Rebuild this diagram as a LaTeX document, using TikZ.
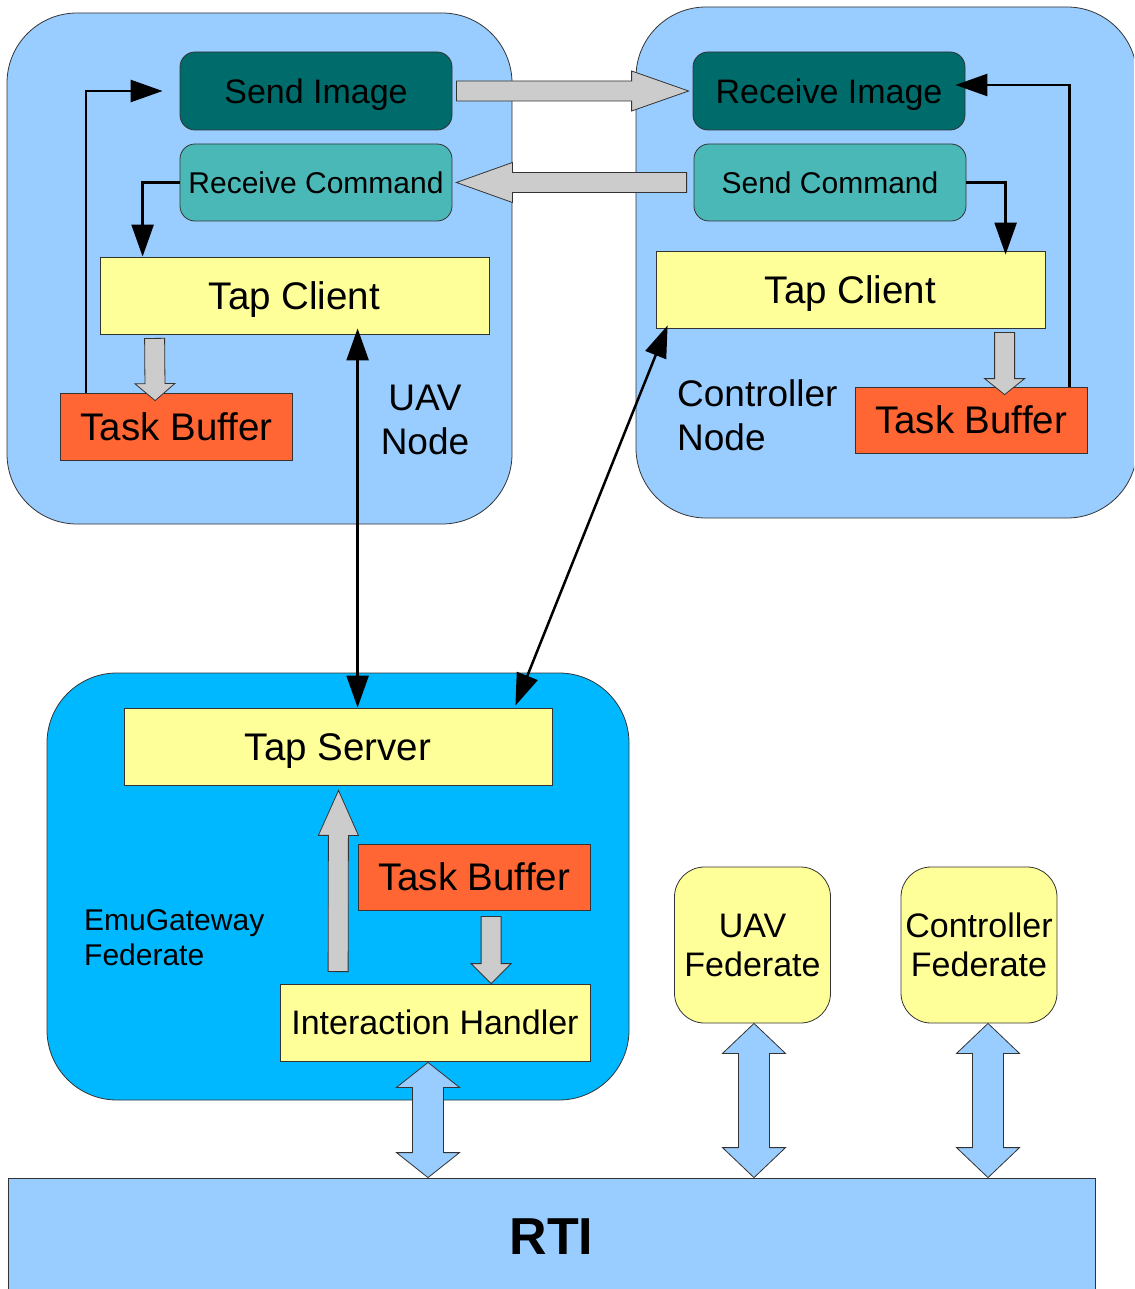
\documentclass[tikz,border=0pt]{standalone}
\usepackage{fontspec}
\setmainfont{Liberation Sans}
\usepackage{tikz}
\usetikzlibrary{arrows.meta}
\usetikzlibrary{calc}

\definecolor{nodeblue}{HTML}{99CCFF}
\definecolor{emublue}{HTML}{00B8FF}
\definecolor{darkteal}{HTML}{006B6B}
\definecolor{lightteal}{HTML}{4BB8B8}
\definecolor{tapyellow}{HTML}{FFFF99}
\definecolor{bufred}{HTML}{FF6633}
\definecolor{arrowgray}{HTML}{CCCCCC}

\newcommand{\fsz}[2]{\fontsize{#1}{#2}\selectfont}
% gray block arrow: from, to, head length
\newcommand{\grayarrow}[3]{%
  \coordinate (gbase) at ($(#2)!#3!(#1)$);
  \draw[grayblock] ($(#1)!10pt!90:(#2)$) -- ($(gbase)!10pt!90:(#2)$) -- ($(gbase)!20pt!90:(#2)$) -- (#2)
    -- ($(gbase)!20pt!-90:(#2)$) -- ($(gbase)!10pt!-90:(#2)$) -- ($(#1)!10pt!-90:(#2)$) -- cycle;}
% double block arrow to the RTI: from, to, head length
\newcommand{\linkarrow}[3]{%
  \coordinate (lbase1) at ($(#1)!#3!(#2)$);
  \coordinate (lbase2) at ($(#2)!#3!(#1)$);
  \draw[blueblock] (#1) -- ($(lbase1)!31.5pt!90:(#2)$) -- ($(lbase1)!15.5pt!90:(#2)$) -- ($(lbase2)!15.5pt!90:(#2)$)
    -- ($(lbase2)!31.5pt!90:(#2)$) -- (#2) -- ($(lbase2)!31.5pt!-90:(#2)$) -- ($(lbase2)!15.5pt!-90:(#2)$)
    -- ($(lbase1)!15.5pt!-90:(#2)$) -- ($(lbase1)!31.5pt!-90:(#2)$) -- cycle;}

\begin{document}
\begin{tikzpicture}[x=1pt,y=-1pt,
    box/.style={draw=black!80,line width=0.8pt,inner sep=0pt,align=center},
    container/.style={box,rounded corners=70pt,fill=nodeblue},
    msgbox/.style={box,rounded corners=15pt,minimum width=272pt,minimum height=78pt,text height=24.5pt,text depth=0pt},
    tapbox/.style={box,fill=tapyellow,minimum height=77pt,font=\fsz{38.5pt}{44pt},text height=27.5pt,text depth=0pt},
    bufbox/.style={box,fill=bufred,minimum width=232pt,minimum height=66pt,font=\fsz{38.5pt}{44pt},text height=27.5pt,text depth=0pt},
    fedbox/.style={box,fill=tapyellow,rounded corners=30pt,minimum width=156pt,minimum height=156pt,font=\fsz{34pt}{39pt}},
    nodetext/.style={inner sep=0pt,font=\fsz{37pt}{44pt}},
    flow/.style={line width=2.5pt,-{Triangle[length=32pt,width=22pt]}},
    twoflow/.style={line width=2.5pt,{Triangle[length=32pt,width=22pt]}-{Triangle[length=32pt,width=22pt]}},
    grayblock/.style={draw=black!80,line width=0.8pt,fill=arrowgray},
    blueblock/.style={draw=black!80,line width=0.8pt,fill=nodeblue}]
    \useasboundingbox (0,0) rectangle (1134,1289);
    \clip (0,0) rectangle (1134,1289);

    % containers
    \node[container,minimum width=505pt,minimum height=511pt] (uavnode) at (259.5,268.5) {};
    \node[container,minimum width=501pt,minimum height=511pt] (ctrlnode) at (886.5,262.5) {};
    \node[container,fill=emublue,minimum width=582pt,minimum height=427pt] (emunode) at (338,886.5) {};
    \node[box,fill=nodeblue,minimum width=1087pt,minimum height=116pt,font=\fsz{52pt}{60pt}\bfseries,text height=37.5pt,text depth=0pt] (rti) at (551.5,1236) {RTI};

    % UAV node
    \node[msgbox,fill=darkteal,font=\fsz{34pt}{40pt}] (sendimg) at (316,91) {Send Image};
    \node[msgbox,fill=lightteal,minimum height=77pt,font=\fsz{30pt}{36pt},text height=21.5pt] (recvcmd) at (316,182.5) {Receive Command};
    \node[tapbox,minimum width=389pt] (tcu) at (294.5,295.5) {Tap Client};
    \node[bufbox,minimum height=67pt] (tbu) at (176.5,426.5) {Task Buffer};
    \node[nodetext,align=center] (uavtext) at (425,420) {UAV\\Node};

    % controller node
    \node[msgbox,fill=darkteal,font=\fsz{34pt}{40pt}] (recvimg) at (829,91) {Receive Image};
    \node[msgbox,fill=lightteal,minimum height=77pt,font=\fsz{30pt}{36pt},text height=21.5pt] (sendcmd) at (830,182.5) {Send Command};
    \node[tapbox,minimum width=389pt] (tcc) at (850.5,289.5) {Tap Client};
    \node[bufbox] (tbc) at (971,420) {Task Buffer};
    \node[nodetext,align=left,anchor=west] (ctrltext) at (677,415) {Controller\\Node};

    % EmuGateway federate
    \node[tapbox,minimum width=428pt] (tapsrv) at (338,746.5) {Tap Server};
    \node[bufbox] (tbe) at (474,877) {Task Buffer};
    \node[tapbox,minimum width=310pt,font=\fsz{34pt}{40pt},text height=24.5pt] (ih) at (435,1022.5) {Interaction Handler};
    \node[nodetext,align=left,anchor=west,font=\fsz{30pt}{35pt}] (emutext) at (84,937.5) {EmuGateway\\Federate};

    % other federates
    \node[fedbox] (uavfed) at (752.5,945) {UAV\\Federate};
    \node[fedbox] (ctrlfed) at (979,945) {Controller\\Federate};

    % black connectors
    \draw[flow] ($(tbu.north west)+(26,0)$) |- ([xshift=-17pt]sendimg.west);
    \draw[flow] (recvcmd.west) -| ($(tcu.north west)+(43,0)$);
    \draw[flow] (sendcmd.east) -| ($(tcc.north west)+(350,4)$);
    \draw[flow] ($(tbc.north west)+(215,0)$) |- ([xshift=-10pt,yshift=6pt]recvimg.east);
    \draw[twoflow] ($(tcu.south west)+(258,-6)$) -- ($(tapsrv.north west)+(234,0)$);
    \draw[twoflow] ($(tcc.south west)+(12,-3)$) -- ($(tapsrv.north east)+(-37,-2)$);

    % gray block arrows
    \coordinate (g1a) at ($(sendimg.east)+(4,0)$);
    \coordinate (g1b) at ($(recvimg.west)+(-4,0)$);
    \grayarrow{g1a}{g1b}{57pt}
    \coordinate (g2a) at ($(sendcmd.west)+(-7,0)$);
    \coordinate (g2b) at ($(recvcmd.east)+(4,0)$);
    \grayarrow{g2a}{g2b}{56pt}
    \coordinate (g3a) at ($(tcu.south west)+(55,4)$);
    \coordinate (g3b) at ($(tbu.north west)+(95,8)$);
    \grayarrow{g3a}{g3b}{17pt}
    \coordinate (g4a) at ($(tcc.south west)+(349,4)$);
    \coordinate (g4b) at ($(tbc.north west)+(150,8)$);
    \grayarrow{g4a}{g4b}{16pt}
    \coordinate (g5a) at ($(ih.north west)+(58.5,-12)$);
    \coordinate (g5b) at ($(tapsrv.south)+(0.5,5)$);
    \grayarrow{g5a}{g5b}{45pt}
    \coordinate (g6a) at ($(tbe.south west)+(133.5,6)$);
    \coordinate (g6b) at ($(ih.north west)+(211.5,0)$);
    \grayarrow{g6a}{g6b}{20pt}

    % links to the RTI
    \coordinate (l1a) at ($(ih.south)+(-7,1)$);
    \coordinate (l1b) at ($(rti.north)+(-123.5,0)$);
    \linkarrow{l1a}{l1b}{25pt}
    \coordinate (l2a) at ($(uavfed.south)+(1.5,0)$);
    \coordinate (l2b) at ($(uavfed.south |- rti.north)+(1.5,0)$);
    \linkarrow{l2a}{l2b}{30pt}
    \coordinate (l3a) at ($(ctrlfed.south)+(9,0)$);
    \coordinate (l3b) at ($(ctrlfed.south |- rti.north)+(9,0)$);
    \linkarrow{l3a}{l3b}{30pt}
\end{tikzpicture}
\end{document}
